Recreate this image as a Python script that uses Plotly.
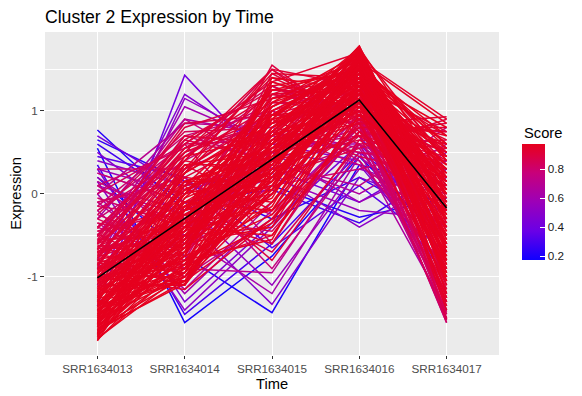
import plotly.graph_objects as go
from plotly.colors import sample_colorscale

# ---- data -------------------------------------------------------------
times = ["SRR1634013", "SRR1634014", "SRR1634015", "SRR1634016", "SRR1634017"]
centroid = [-1.01, -0.30, 0.41, 1.13, -0.17]

# (score, expression at each time)
genes = [
    # low score (blue)
    (0.18, [0.55, -1.55, -0.75, 0.45, -0.60]),
    (0.20, [0.20, -0.75, -1.43, 0.35, 0.10]),
    (0.22, [0.77, -0.20, 0.10, -0.28, -0.05]),
    (0.25, [0.65, 0.15, -0.30, 0.20, -0.40]),
    (0.28, [0.60, -0.10, 0.05, -0.35, 0.30]),
    (0.30, [0.35, -1.45, -0.60, 0.50, -0.20]),
    (0.33, [0.45, 0.20, -0.65, 0.10, -0.70]),
    # purple
    (0.40, [-1.35, 1.43, 0.30, 0.70, -0.60]),
    (0.42, [0.70, 0.05, 0.30, -0.10, 0.50]),
    (0.45, [0.30, -1.30, -0.35, 0.60, -0.50]),
    (0.47, [-0.90, 1.20, 0.50, 0.35, -0.90]),
    (0.48, [0.50, -0.30, -1.33, 0.20, -0.20]),
    (0.50, [0.40, 0.10, 0.25, -0.40, 0.20]),
    (0.52, [0.15, -1.40, -0.40, 0.75, -0.30]),
    (0.53, [-1.10, 1.15, 0.60, 0.40, -1.00]),
    (0.55, [0.25, -0.10, -1.10, 0.30, 0.00]),
    (0.56, [0.10, -0.20, 0.20, -0.20, -0.30]),
    (0.58, [0.30, 0.00, 0.50, -0.10, 0.40]),
    (0.60, [-0.80, 1.05, 0.60, 0.60, -1.20]),
    (0.60, [0.00, -1.20, -0.20, 0.80, -0.60]),
    (0.62, [0.20, -0.50, -1.20, 0.45, -0.35]),
    # magenta
    (0.65, [-0.30, 0.90, 0.70, 0.50, -1.40]),
    (0.66, [0.05, -0.25, 0.40, 0.00, 0.60]),
    (0.68, [-0.20, -1.15, -0.10, 0.95, -1.55]),
    (0.70, [0.00, 0.85, 0.80, 0.55, -1.00]),
    (0.70, [-0.10, -0.90, -0.95, 0.60, -0.20]),
    (0.72, [0.15, -0.40, 0.35, 0.10, 0.80]),
    (0.73, [-0.50, 0.90, 0.30, 0.70, -1.45]),
    (0.75, [-0.35, -1.00, -0.30, 0.85, -1.50]),
    (0.76, [-0.10, 0.20, -0.90, 0.50, 0.30]),
    (0.78, [-0.60, 0.70, 1.00, 0.60, -1.30]),
    (0.78, [0.10, -0.60, 0.10, 0.30, 0.55]),
    (0.78, [0.30, 0.30, 0.75, 0.35, -0.40]),
    (0.79, [0.25, -0.10, 0.20, 0.60, 0.10]),
    (0.80, [-0.40, -0.80, 1.00, 0.40, -0.90]),
    (0.80, [-0.20, 0.60, -0.60, 0.90, -0.50]),
    (0.80, [-0.30, 0.40, 0.95, 0.85, -1.50]),
    (0.80, [-0.15, 0.70, 0.40, 0.80, -1.20]),
    (0.81, [-0.05, -0.40, 0.55, 0.70, -1.30]),
    (0.81, [-0.25, -0.65, 0.00, 1.15, -1.50]),
    (0.82, [0.10, 0.55, 1.10, 1.00, -1.42]),
    (0.82, [-0.10, 0.15, -0.25, 0.80, 0.75]),
    (0.83, [-0.20, 0.45, 1.20, 1.00, -1.55]),
    (0.83, [0.00, 0.60, 0.65, 0.90, -1.30]),
    (0.84, [-0.45, -0.20, 1.30, 0.90, -1.52]),
    (0.84, [-0.40, 0.30, 1.00, 1.35, -1.45]),
    (0.85, [-0.30, -0.75, 0.75, 0.50, 0.40]),
    (0.85, [-0.25, 0.75, 0.80, 1.50, -1.40]),
    (0.85, [-0.15, -0.30, -0.45, 0.75, 0.60]),
    (0.86, [-0.40, 0.50, 0.85, 1.10, -1.10]),
    (0.86, [-0.50, 0.60, 1.30, 0.80, -1.00]),
    (0.86, [-0.45, -0.15, -0.70, 0.60, 0.65]),
    (0.87, [-0.42, 0.65, 0.40, 1.20, -0.20]),
    (0.87, [-0.35, -0.55, 0.90, 0.45, 0.20]),
    (0.87, [-0.55, 0.85, 0.95, 1.25, -1.25]),
    (0.87, [-0.50, 0.40, 1.50, 0.85, -0.70]),
    # red
    (0.88, [-0.60, 0.55, 0.85, 1.10, -1.35]),
    (0.88, [-0.55, -0.50, 0.30, 0.70, 0.85]),
    (0.88, [-0.52, 0.80, 1.15, 1.40, -1.50]),
    (0.88, [-0.48, -1.00, 0.20, 0.55, 0.90]),
    (0.89, [-0.70, -0.35, 1.55, 0.75, -0.60]),
    (0.89, [-0.65, -0.85, -0.50, 0.90, 0.50]),
    (0.89, [-0.62, -0.65, 1.45, 0.90, -1.15]),
    (0.89, [-0.58, 0.10, -0.80, 0.65, 0.55]),
    (0.89, [-0.66, 0.65, 1.25, 1.20, -0.90]),
    (0.89, [-0.76, -0.40, 0.40, 0.65, -0.05]),
    (0.90, [-0.57, 0.60, 1.35, 0.95, 0.25]),
    (0.90, [-0.59, -0.35, 0.60, 1.35, -1.25]),
    (0.90, [-0.61, 0.35, -0.20, 0.70, 0.45]),
    (0.90, [-0.63, -0.75, 1.15, 1.55, -0.80]),
    (0.90, [-0.86, 0.45, 1.05, 1.50, -0.15]),
    (0.90, [-0.70, -0.15, 0.10, 1.25, -1.00]),
    (0.91, [-0.64, -0.10, 0.25, 1.10, 0.15]),
    (0.91, [-0.67, 0.50, 0.95, 1.65, -1.10]),
    (0.91, [-0.80, -0.95, 0.60, 1.60, -1.20]),
    (0.91, [-0.75, 0.05, 0.50, 0.85, 0.93]),
    (0.91, [-0.72, -0.25, -0.60, 1.00, 0.30]),
    (0.91, [-0.68, 0.70, 0.60, 1.60, -0.55]),
    (0.91, [-0.95, 0.20, 0.75, 1.00, 0.40]),
    (0.91, [-0.90, -0.55, 1.10, 1.10, 0.05]),
    (0.92, [-0.69, -0.50, -0.40, 0.85, 0.75]),
    (0.92, [-0.71, 0.25, 1.50, 1.30, -0.10]),
    (0.92, [-0.73, -0.90, 0.45, 0.95, -0.65]),
    (0.92, [-0.74, -0.25, 0.00, 1.45, 0.35]),
    (0.92, [-0.77, 0.55, 1.20, 1.05, -0.30]),
    (0.92, [-0.90, -0.70, 0.15, 1.30, 0.75]),
    (0.92, [-0.85, 0.40, 1.40, 0.95, -0.40]),
    (0.92, [-0.82, -1.10, 0.55, 1.10, -0.85]),
    (0.92, [-0.78, 0.50, 1.50, 0.70, 0.00]),
    (0.92, [-1.00, 0.05, 0.45, 1.30, -1.15]),
    (0.92, [-1.05, -0.35, 1.20, 1.60, 0.45]),
    (0.93, [-0.79, -0.60, 0.80, 1.20, 0.50]),
    (0.93, [-0.81, 0.15, 0.55, 1.58, -1.35]),
    (0.93, [-0.83, -1.05, -0.30, 0.75, 0.00]),
    (0.93, [-0.84, -0.45, 1.35, 1.70, -0.95]),
    (0.93, [-0.87, 0.40, 0.20, 1.15, 0.65]),
    (0.93, [-1.00, -1.15, -0.30, 1.05, 0.35]),
    (0.93, [-0.95, -0.20, 1.25, 1.20, -0.80]),
    (0.93, [-0.92, 0.20, 0.05, 0.80, 0.80]),
    (0.93, [-0.88, -0.45, 0.70, 1.78, -0.35]),
    (0.93, [-1.15, 0.25, 1.25, 1.35, -0.60]),
    (0.93, [-1.20, -0.45, 0.50, 0.95, 0.50]),
    (0.94, [-0.89, -0.85, 1.00, 1.50, 0.20]),
    (0.94, [-0.91, 0.05, -0.10, 1.30, -0.45]),
    (0.94, [-0.93, -0.35, 0.65, 0.85, -1.05]),
    (0.94, [-0.94, -0.65, 0.30, 1.62, 0.90]),
    (0.94, [-0.97, 0.30, 1.45, 1.40, 0.10]),
    (0.94, [-1.10, -1.10, 0.40, 1.00, 0.60]),
    (0.94, [-1.05, 0.25, 0.90, 1.15, -1.10]),
    (0.94, [-1.02, 0.35, 0.35, 1.45, 0.10]),
    (0.94, [-0.98, -0.90, 1.20, 1.30, -1.25]),
    (0.94, [-1.25, -0.15, 0.35, 1.75, -0.80]),
    (0.94, [-1.30, 0.30, 0.95, 1.05, 0.20]),
    (0.95, [-0.99, -1.00, 0.05, 1.05, -0.75]),
    (0.95, [-1.01, -0.20, 0.85, 1.25, -0.20]),
    (0.95, [-1.03, -0.55, 0.40, 1.73, 0.40]),
    (0.95, [-1.04, 0.10, 1.05, 1.55, -1.40]),
    (0.95, [-1.07, -0.80, -0.55, 1.35, 0.70]),
    (0.95, [-1.20, -1.05, 0.00, 1.10, 0.20]),
    (0.95, [-1.15, -0.60, 1.10, 1.45, -0.90]),
    (0.95, [-1.12, -0.40, 0.95, 0.95, 0.70]),
    (0.95, [-1.08, -0.60, -0.40, 1.25, -0.65]),
    (0.95, [-1.09, -0.30, 0.55, 1.10, -0.60]),
    (0.95, [-1.11, -1.10, 0.20, 0.90, 0.30]),
    (0.95, [-1.13, 0.45, 0.70, 1.62, 0.05]),
    (0.95, [-1.35, -0.30, 0.60, 1.20, -0.25]),
    (0.95, [-1.40, 0.10, 0.30, 1.45, -1.05]),
    (0.96, [-1.14, -0.70, 1.30, 1.48, -0.50]),
    (0.96, [-1.17, -0.10, -0.20, 1.20, 0.55]),
    (0.96, [-1.30, -1.00, 0.10, 1.35, 0.45]),
    (0.96, [-1.25, 0.10, 0.70, 1.25, -0.50]),
    (0.96, [-1.22, -0.75, 1.35, 1.05, -0.95]),
    (0.96, [-1.18, 0.15, 0.15, 1.55, 0.25]),
    (0.96, [-1.19, -0.50, 0.15, 1.40, -1.30]),
    (0.96, [-1.21, -0.95, 0.90, 1.68, -0.20]),
    (0.96, [-1.23, 0.35, 0.50, 1.00, -0.90]),
    (0.96, [-1.24, -0.30, 0.75, 1.60, 0.85]),
    (0.96, [-1.27, -0.85, 0.00, 1.15, -0.40]),
    (0.96, [-1.40, -0.90, -0.10, 1.20, 0.00]),
    (0.96, [-1.35, -0.45, 0.95, 1.55, -0.75]),
    (0.96, [-1.32, -0.35, -0.20, 1.40, 0.50]),
    (0.96, [-1.28, 0.00, 0.85, 1.70, -0.05]),
    (0.96, [-1.06, -0.50, 0.75, 1.48, -0.30]),
    (0.96, [-0.96, 0.00, 0.25, 1.66, -0.85]),
    (0.96, [-1.45, -0.70, 0.90, 1.10, 0.15]),
    (0.96, [-1.50, -0.20, 0.70, 1.55, 0.60]),
    (0.96, [-1.55, -0.80, 0.00, 1.40, -0.50]),
    (0.97, [-1.29, 0.00, 1.15, 1.30, 0.35]),
    (0.97, [-1.31, -0.65, 0.60, 1.76, -0.70]),
    (0.97, [-1.33, -0.40, -0.50, 0.95, 0.15]),
    (0.97, [-1.34, -1.05, 0.30, 1.55, -0.10]),
    (0.97, [-1.37, 0.25, 0.85, 1.45, 0.60]),
    (0.97, [-1.50, -0.80, 0.35, 1.30, 0.30]),
    (0.97, [-1.45, -0.10, 0.55, 1.40, -0.20]),
    (0.97, [-1.42, -0.25, 0.25, 1.15, 0.05]),
    (0.97, [-1.38, -1.05, 0.50, 1.50, -0.70]),
    (0.97, [-1.26, -0.20, 1.00, 1.52, -1.00]),
    (0.97, [-1.16, -0.80, -0.15, 1.62, 0.15]),
    (0.97, [-1.39, -0.75, 1.40, 1.25, -0.85]),
    (0.97, [-1.41, -0.20, 0.10, 1.64, -0.55]),
    (0.97, [-1.43, -0.55, 0.70, 1.05, 0.25]),
    (0.97, [-1.44, -0.90, -0.35, 1.35, 0.45]),
    (0.97, [-1.47, 0.15, 0.45, 1.58, -1.20]),
    (0.97, [-1.49, -0.35, 1.25, 1.50, 0.00]),
    (0.97, [-1.60, -0.65, 0.20, 1.50, 0.10]),
    (0.97, [-1.55, -0.30, 0.80, 1.65, -0.60]),
    (0.97, [-1.58, -0.05, 0.40, 1.75, -0.25]),
    (0.97, [-1.48, -0.55, 1.05, 1.65, -0.35]),
    (0.97, [-1.46, -0.95, 0.65, 1.58, 0.40]),
    (0.97, [-1.36, -0.60, 0.35, 1.74, -0.60]),
    (0.97, [-1.51, -1.00, 0.50, 1.71, -0.30]),
    (0.97, [-1.53, -0.15, 0.20, 1.25, -0.75]),
    (0.97, [-1.54, -0.70, 0.95, 1.40, 0.80]),
    (0.97, [-1.56, -0.50, -0.05, 1.62, -0.15]),
    (0.97, [-1.57, 0.05, 0.60, 1.35, -0.40]),
    (0.97, [-1.59, -0.85, 0.25, 1.20, 0.35]),
    (0.97, [-1.72, -0.40, 0.30, 1.60, -0.10]),
    (0.97, [-1.65, -0.55, 0.60, 1.78, -0.40]),
    (0.97, [-1.68, -0.15, 0.65, 1.35, -0.50]),
    (0.97, [-1.62, -1.00, 0.45, 1.25, 0.15]),
    (0.97, [-1.66, -0.90, 0.50, 1.40, -0.80]),
    (0.97, [-1.52, -0.45, 0.05, 1.68, -0.10]),
    (0.97, [-1.61, -0.40, 1.10, 1.69, -1.05]),
    (0.97, [-1.63, -1.08, 0.80, 1.45, -0.65]),
    (0.97, [-1.64, -0.25, 0.35, 1.52, 0.70]),
    (0.97, [-1.67, -0.75, -0.25, 1.10, -0.25]),
    (0.97, [-1.69, -0.05, 0.90, 1.76, 0.20]),
    (0.97, [-1.71, -0.60, 0.55, 1.30, -0.95]),
    (0.97, [-1.74, -0.95, 0.05, 1.55, 0.55]),
    (0.97, [-1.77, -0.20, 0.45, 1.45, -0.30]),
    (0.97, [-1.75, -0.85, 0.10, 1.70, -0.15]),
    (0.97, [-1.76, -0.70, 0.75, 1.72, -0.45]),
    (0.97, [-1.70, -0.30, 0.15, 1.62, 0.05]),
    (0.97, [-1.73, -0.50, 0.40, 1.20, 0.30]),
    (0.97, [-1.60, 0.00, 0.95, 1.60, -0.70]),
    (0.97, [-1.65, -1.05, 0.25, 1.65, 0.00]),
]

score_min, score_max = 0.173, 0.973
score_ticks = [0.2, 0.4, 0.6, 0.8]
y_ticks = [-1, 0, 1]

# ---- styling ----------------------------------------------------------
colorscale = [
    [0.0, "#1000FF"],
    [0.25, "#6A00E6"],
    [0.5, "#9C00B8"],
    [0.75, "#C8007A"],
    [0.9, "#DC0040"],
    [1.0, "#E6001E"],
]
FONT = "Liberation Sans, Arial, Helvetica, sans-serif"

# the page body adds an 8 px margin; build the figure 8 px smaller
OFF = 8
W, H = 582 - OFF, 396 - OFF
# panel edges in page pixels
PL, PR, PT, PB = 45, 499, 32, 355

fig = go.Figure()

for score, vals in sorted(genes, key=lambda g: g[0]):
    t = (score - score_min) / (score_max - score_min)
    col = sample_colorscale(colorscale, [min(max(t, 0), 1)])[0]
    fig.add_trace(go.Scatter(
        x=times, y=vals, mode="lines",
        line=dict(color=col, width=1.5),
        showlegend=False, hoverinfo="skip",
    ))

fig.add_trace(go.Scatter(
    x=times, y=centroid, mode="lines",
    line=dict(color="black", width=1.5),
    showlegend=False, hoverinfo="skip",
))

# colorbar carrier
fig.add_trace(go.Scatter(
    x=[times[0], times[0]], y=[0, 0], mode="markers",
    marker=dict(
        size=0.1, opacity=0, color=[score_min, score_max],
        colorscale=colorscale, cmin=score_min, cmax=score_max,
        showscale=True,
        colorbar=dict(
            x=(522 - PL) / (PR - PL), xanchor="left", xref="paper",
            y=(PB - 202) / (PB - PT), yanchor="middle",
            lenmode="pixels", len=116, thickness=23,
            outlinewidth=0, tickvals=score_ticks,
            ticks="inside", ticklen=5, tickcolor="white", tickwidth=1,
            tickfont=dict(family=FONT, size=11.7, color="#1a1a1a"),
            xpad=0, ypad=0,
        ),
    ),
    showlegend=False, hoverinfo="skip",
))

fig.add_annotation(
    text="Score", xref="paper", yref="paper",
    x=(522 - PL) / (PR - PL), y=(PB - 133) / (PB - PT),
    xanchor="left", yanchor="middle", showarrow=False,
    font=dict(family=FONT, size=14.7, color="black"),
)

fig.update_layout(
    width=W, height=H,
    margin=dict(l=PL - OFF, r=W - (PR - OFF), t=PT - OFF, b=H - (PB - OFF), autoexpand=False),
    paper_bgcolor="white", plot_bgcolor="#EBEBEB",
    title=dict(
        text="Cluster 2 Expression by Time",
        x=(PL - OFF) / W, xref="container", xanchor="left",
        y=1 - (17 - OFF) / H, yref="container", yanchor="middle",
        font=dict(family=FONT, size=17.6, color="black"),
    ),
    font=dict(family=FONT),
)

fig.update_xaxes(
    type="category", categoryorder="array", categoryarray=times,
    range=[-0.6, 4.6], automargin=False,
    showgrid=True, gridcolor="white", gridwidth=1.4,
    ticks="outside", ticklen=3, tickcolor="#333333", tickwidth=1,
    tickfont=dict(family=FONT, size=11.7, color="#4D4D4D"),
    title=dict(text="Time", font=dict(family=FONT, size=14.7, color="black"), standoff=4),
    zeroline=False, showline=False,
)

fig.update_yaxes(
    range=[-1.94, 1.95], automargin=False,
    tickvals=y_ticks, ticktext=[str(v) for v in y_ticks],
    showgrid=True, gridcolor="white", gridwidth=1.4,
    minor=dict(tickvals=[-1.5, -0.5, 0.5, 1.5], showgrid=True, gridcolor="white", gridwidth=0.7, ticks=""),
    ticks="outside", ticklen=4, tickcolor="#333333", tickwidth=1,
    tickfont=dict(family=FONT, size=11.7, color="#4D4D4D"),
    title=dict(text="Expression", font=dict(family=FONT, size=14.7, color="black"), standoff=9),
    zeroline=False, showline=False,
)

fig.write_html("out.html")
